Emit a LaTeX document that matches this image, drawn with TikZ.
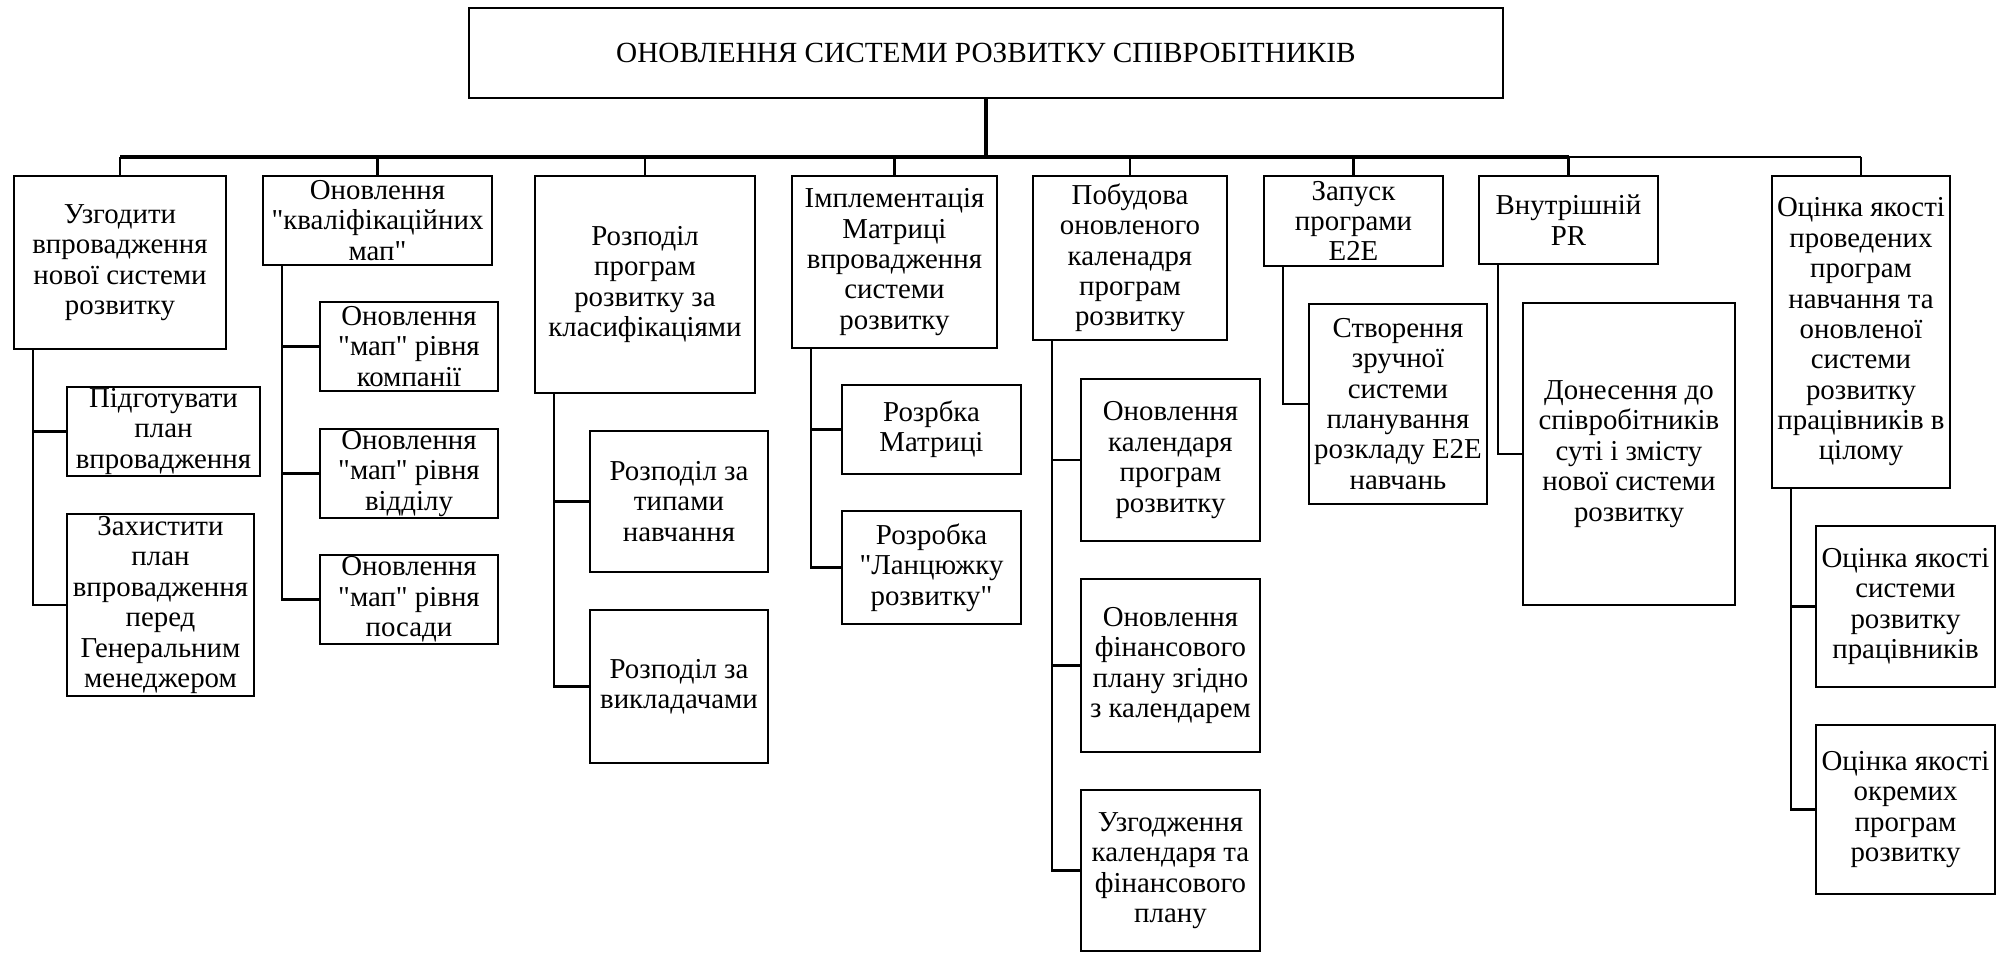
\documentclass[tikz,border=0pt]{standalone}
\usepackage{fontspec}
\setmainfont{Liberation Serif}[Ligatures=TeXOff]
\begin{document}
\begin{tikzpicture}[
                  x=0.53pt, y=-0.53pt,
                  box/.style={draw, line width=1.1pt, align=center, inner sep=0pt,
                    font=\fontsize{15.3}{16.1}\selectfont},
                  boxsize/.style 2 args={minimum width=#1*0.53pt, minimum height=#2*0.53pt},
                  link/.style={line width=1.1pt},
                  mainlink/.style={line width=1.6pt}
                ]
                  \useasboundingbox (0,0) rectangle (2011,954);
                  \node[box, boxsize={1034}{90}, font=\fontsize{15.5}{17}\selectfont] (top) at (986,53) {ОНОВЛЕННЯ СИСТЕМИ РОЗВИТКУ СПІВРОБІТНИКІВ};

                  \node[box, boxsize={212}{173}] (b1) at (120,262.5) {Узгодити\\впровадження\\нової системи\\розвитку};
                  \node[box, boxsize={229}{89}] (b2) at (377.5,220.5) {Оновлення\\"кваліфікаційних\\мап"};
                  \node[box, boxsize={220}{217}] (b3) at (645,284.5) {Розподіл\\програм\\розвитку за\\класифікаціями};
                  \node[box, boxsize={205}{172}] (b4) at (894.5,262) {Імплементація\\Матриці\\впровадження\\системи\\розвитку};
                  \node[box, boxsize={194}{164}] (b5) at (1130,258) {Побудова\\оновленого\\каленадря\\програм\\розвитку};
                  \node[box, boxsize={179}{90}] (b6) at (1353.5,221) {Запуск\\програми\\E2E};
                  \node[box, boxsize={179}{88}] (b7) at (1568.5,220) {Внутрішній\\PR};
                  \node[box, boxsize={178}{312}] (b8) at (1861,332) {Оцінка якості\\проведених\\програм\\навчання та\\оновленої\\системи\\розвитку\\працівників в\\цілому};

                  \node[box, boxsize={193}{89}] (b1a) at (163.5,431.5) {Підготувати\\план\\впровадження};
                  \node[box, boxsize={187}{182}] (b1b) at (160.5,605) {Захистити\\план\\впровадження\\перед\\Генеральним\\менеджером};

                  \node[box, boxsize={178}{89}] (b2a) at (409,346.5) {Оновлення\\"мап" рівня\\компанії};
                  \node[box, boxsize={178}{89}] (b2b) at (409,473.5) {Оновлення\\"мап" рівня\\відділу};
                  \node[box, boxsize={178}{89}] (b2c) at (409,599.5) {Оновлення\\"мап" рівня\\посади};

                  \node[box, boxsize={178}{141}] (b3a) at (679,501.5) {Розподіл за\\типами\\навчання};
                  \node[box, boxsize={178}{153}] (b3b) at (679,686.5) {Розподіл за\\викладачами};

                  \node[box, boxsize={179}{89}] (b4a) at (931.5,429.5) {Розрбка\\Матриці};
                  \node[box, boxsize={179}{113}] (b4b) at (931.5,567.5) {Розробка\\"Ланцюжку\\розвитку"};

                  \node[box, boxsize={179}{162}] (b5a) at (1170.5,460) {Оновлення\\календаря\\програм\\розвитку};
                  \node[box, boxsize={179}{173}] (b5b) at (1170.5,665.5) {Оновлення\\фінансового\\плану згідно\\з календарем};
                  \node[box, boxsize={179}{161}] (b5c) at (1170.5,870.5) {Узгодження\\календаря та\\фінансового\\плану};

                  \node[box, boxsize={178}{200}] (b6a) at (1398,404) {Створення\\зручної\\системи\\планування\\розкладу E2E\\навчань};

                  \node[box, boxsize={212}{302}] (b7a) at (1629,454) {Донесення до\\співробітників\\суті і змісту\\нової системи\\розвитку};

                  \node[box, boxsize={179}{161}] (b8a) at (1905.5,606.5) {Оцінка якості\\системи\\розвитку\\працівників};
                  \node[box, boxsize={179}{169}] (b8b) at (1905.5,809.5) {Оцінка якості\\окремих\\програм\\розвитку};

                  \coordinate (bus) at (986,157);
                  \draw[mainlink] (top.south) -- (bus);
                  \draw[mainlink] (b1.north |- bus) -- (b7.north |- bus);
                  \draw[link] (b7.north |- bus) -- (b8.north |- bus);
                  \foreach \n in {b1,b2,b3,b4,b5,b6,b7,b8}
                    \draw[link] (\n.north) -- (\n.north |- bus);

                  \foreach \p/\c in {b1/b1a,b1/b1b,b2/b2a,b2/b2b,b2/b2c,b3/b3a,b3/b3b,b4/b4a,b4/b4b,
                                     b5/b5a,b5/b5b,b5/b5c,b6/b6a,b7/b7a,b8/b8a,b8/b8b}
                    \draw[link] ([xshift=20*0.53pt]\p.south west) |- (\c.west);
                \end{tikzpicture}
\end{document}
